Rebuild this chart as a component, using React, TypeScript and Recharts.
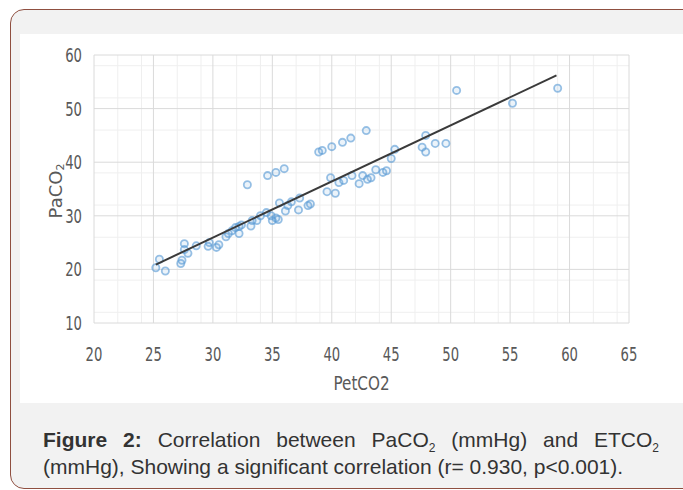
import { CartesianGrid, Label, Scatter, ScatterChart, XAxis, YAxis } from 'recharts';

// PetCO2 (x) and PaCO2 (y), one entry per patient
const petco2 = [
  25.2, 25.5, 26.0, 27.3, 27.4, 27.6, 27.6, 27.9, 28.6, 29.6, 29.7, 30.3, 30.5, 31.1, 31.3,
  31.6, 31.9, 32.2, 32.2, 32.4, 32.9, 33.2, 33.3, 33.7, 34.0, 34.5, 34.9, 35.0, 35.3, 35.5,
  35.6, 36.1, 36.3, 36.6, 37.2, 37.3, 38.0, 38.2, 34.6, 35.3, 36.0, 38.9, 39.2, 40.0, 40.9,
  41.6, 42.9, 39.6, 39.9, 40.3, 40.6, 41.0, 41.7, 42.3, 42.6, 43.0, 43.3, 43.7, 44.3, 44.6,
  45.0, 45.3, 47.6, 47.9, 47.9, 48.7, 49.6, 50.5, 55.2, 59.0,
];
const paco2 = [
  20.3, 21.9, 19.7, 21.1, 21.7, 24.8, 23.7, 23.0, 24.4, 24.3, 25.0, 24.1, 24.6, 26.1, 26.7,
  27.2, 27.8, 26.7, 28.0, 28.3, 35.8, 28.1, 29.1, 29.1, 30.0, 30.6, 30.0, 29.1, 29.6, 29.3,
  32.4, 30.9, 31.9, 32.6, 31.1, 33.3, 31.9, 32.2, 37.5, 38.1, 38.8, 41.9, 42.2, 42.9, 43.7,
  44.5, 45.9, 34.5, 37.1, 34.2, 36.2, 36.6, 37.5, 36.0, 37.5, 36.8, 37.1, 38.6, 38.1, 38.4,
  40.7, 42.4, 42.8, 45.0, 41.9, 43.5, 43.5, 53.4, 51.0, 53.8,
];

// fitted line end points
const trendX = [25.2, 58.9];
const trendY = [20.9, 56.2];

const xTicks = [20, 25, 30, 35, 40, 45, 50, 55, 60, 65];
const yTicks = [10, 20, 30, 40, 50, 60];

const points = petco2.map((x, i) => ({ x, y: paco2[i] }));
const trend = trendX.map((x, i) => ({ x, y: trendY[i] }));

const minorX = Array.from({ length: 46 }, (_, i) => 20 + i).filter((v) => v % 5 !== 0);
const minorY = Array.from({ length: 26 }, (_, i) => 10 + i * 2).filter((v) => v % 10 !== 0);

const tickFont = "'DejaVu Sans', sans-serif";

// squeezed text, the original uses a narrow face
const Narrow = ({ x, y, anchor, size, sx, children }: any) => (
  <g transform={`translate(${x},${y}) scale(${sx},1)`}>
    <text x={0} y={0} textAnchor={anchor} fontFamily={tickFont} fontSize={size} fill="#595959">
      {children}
    </text>
  </g>
);

const XTick = ({ x, y, payload }: any) => (
  <Narrow x={x} y={y + 36} anchor="middle" size={20} sx={0.66}>
    {payload.value}
  </Narrow>
);

const YTick = ({ x, y, payload }: any) => (
  <Narrow x={x - 10} y={y + 7} anchor="end" size={20} sx={0.66}>
    {payload.value}
  </Narrow>
);

const XLabel = ({ viewBox }: any) => (
  <Narrow x={viewBox.x + viewBox.width / 2} y={viewBox.y + 67} anchor="middle" size={20} sx={0.76}>
    PetCO2
  </Narrow>
);

const Ring = ({ cx, cy }: any) => (
  <circle
    cx={cx}
    cy={cy}
    r={3.6}
    fill="rgba(91,155,213,0.12)"
    stroke="rgba(91,155,213,0.62)"
    strokeWidth={1.8}
  />
);

const YLabel = ({ viewBox }: any) => {
  const cx = viewBox.x + 35;
  const cy = viewBox.y + viewBox.height / 2 + 2;
  return (
    <text
      x={cx}
      y={cy}
      transform={`rotate(-90, ${cx}, ${cy})`}
      textAnchor="middle"
      dominantBaseline="central"
      fontFamily="'DejaVu Sans', sans-serif"
      fontSize={18}
      fill="#595959"
    >
      PaCO<tspan fontSize={11} dy={5}>2</tspan>
    </text>
  );
};

const sub = { fontSize: 12, position: 'relative' as const, top: 5, lineHeight: 0 };

export default function App() {
  return (
    <div
      style={{
        position: 'absolute',
        left: 0,
        top: 0,
        width: 683,
        height: 490,
        overflow: 'hidden',
        background: '#fff',
      }}
    >
      <div
        style={{
          position: 'absolute',
          left: 10,
          top: 9,
          width: 720,
          height: 478,
          border: '1.5px solid #8f4f40',
          borderRadius: 14,
          background: '#f2f2f2',
        }}
      />
      <div
        style={{ position: 'absolute', left: 20, top: 34, width: 680, height: 369, background: '#fff' }}
      >
        <ScatterChart width={663} height={369} margin={{ top: 21, right: 54, bottom: 0, left: 0 }}>
          <CartesianGrid stroke="#efefef" verticalValues={minorX} horizontalValues={minorY} />
          <CartesianGrid stroke="#dadada" />
          <XAxis
            type="number"
            dataKey="x"
            domain={[20, 65]}
            ticks={xTicks}
            height={80}
            axisLine={false}
            tickLine={false}
            tickSize={0}
            tick={<XTick />}
          >
            <Label content={<XLabel />} />
          </XAxis>
          <YAxis
            type="number"
            dataKey="y"
            domain={[10, 60]}
            ticks={yTicks}
            width={74}
            axisLine={false}
            tickLine={false}
            tickSize={0}
            tick={<YTick />}
          >
            <Label content={<YLabel />} />
          </YAxis>
          <Scatter data={points} shape={<Ring />} isAnimationActive={false} />
          <Scatter
            data={trend}
            line={{ stroke: '#3a3a3a', strokeWidth: 2 }}
            shape={() => <g />}
            isAnimationActive={false}
          />
        </ScatterChart>
      </div>
      <div
        style={{
          position: 'absolute',
          left: 43,
          top: 426,
          width: 616,
          fontFamily: "'Liberation Sans', Arial, sans-serif",
          fontSize: 21,
          lineHeight: '27px',
          color: '#333',
          textAlign: 'justify',
        }}
      >
        <b>Figure 2:</b> Correlation between PaCO<span style={sub}>2</span> (mmHg) and ETCO
        <span style={sub}>2</span> (mmHg), Showing a significant correlation (r= 0.930, p&lt;0.001).
      </div>
    </div>
  );
}
